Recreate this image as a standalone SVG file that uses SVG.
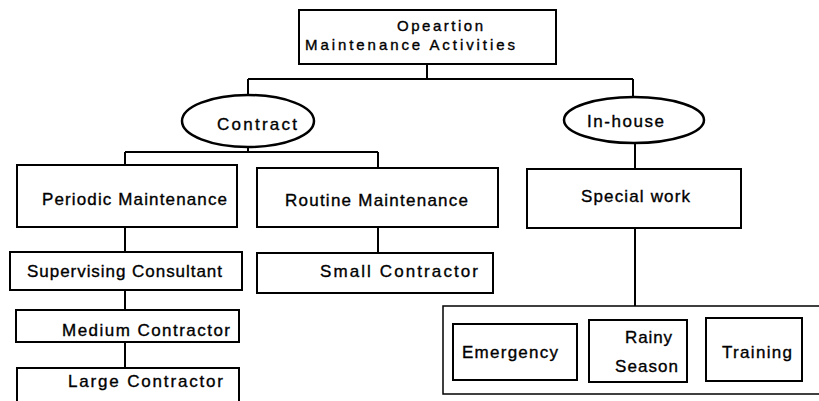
<svg xmlns="http://www.w3.org/2000/svg" width="819" height="401" viewBox="0 0 819 401">
  <style>
    .box { fill: #fff; stroke: #000; stroke-width: 2; }
    .thin { fill: #fff; stroke: #000; stroke-width: 1.5; }
    .oval { fill: #fff; stroke: #000; stroke-width: 2.5; }
    .link { fill: none; stroke: #000; stroke-width: 2; }
    text { font-family: "Liberation Sans", Arial, sans-serif; font-size: 17px; fill: #000; stroke: #000; stroke-width: 0.35; }
    .head { font-size: 15px; }
  </style>
  <rect width="819" height="401" fill="#fff"/>

  <!-- connectors -->
  <g id="connectors" class="link">
    <path d="M427 64V79M248 79H633M248 79V96M633 79V97"/>
    <path d="M248 147V152M125 152H378M125 152V165M378 152V168"/>
    <path d="M125 227V252M125 290V310M125 342V368"/>
    <path d="M378 227V253"/>
    <path d="M635 143V169M635 228V306"/>
  </g>

  <g id="root">
    <rect class="box" x="299" y="10" width="257" height="54"/>
    <text class="head" x="397" y="31" textLength="86" lengthAdjust="spacing">Opeartion</text>
    <text class="head" x="305" y="50" textLength="210" lengthAdjust="spacing">Maintenance Activities</text>
  </g>

  <g id="contract">
    <ellipse class="oval" cx="248" cy="121" rx="66" ry="26"/>
    <text x="217" y="130" font-size="19" textLength="80" lengthAdjust="spacing">Contract</text>
  </g>

  <g id="in-house">
    <ellipse class="oval" cx="634" cy="120" rx="70" ry="23"/>
    <text x="587" y="127" textLength="77" lengthAdjust="spacing">In-house</text>
  </g>

  <g id="periodic-maintenance">
    <rect class="box" x="17" y="165" width="220" height="62"/>
    <text x="42" y="205" textLength="185" lengthAdjust="spacing">Periodic Maintenance</text>
  </g>

  <g id="routine-maintenance">
    <rect class="box" x="257" y="168" width="241" height="59"/>
    <text x="285" y="206" textLength="183" lengthAdjust="spacing">Routine Maintenance</text>
  </g>

  <g id="special-work">
    <rect class="box" x="527" y="169" width="214" height="59"/>
    <text x="581" y="202" textLength="109" lengthAdjust="spacing">Special work</text>
  </g>

  <g id="supervising-consultant">
    <rect class="box" x="10" y="252" width="232" height="38"/>
    <text x="27" y="277" textLength="195" lengthAdjust="spacing">Supervising Consultant</text>
  </g>

  <g id="small-contractor">
    <rect class="box" x="257" y="253" width="236" height="40"/>
    <text x="320" y="277" textLength="158" lengthAdjust="spacing">Small Contractor</text>
  </g>

  <g id="medium-contractor">
    <rect class="box" x="16" y="310" width="223" height="32"/>
    <text x="62" y="336" textLength="168" lengthAdjust="spacing">Medium Contractor</text>
  </g>

  <g id="large-contractor">
    <rect class="box" x="17" y="368" width="222" height="40"/>
    <text x="68" y="387" textLength="155" lengthAdjust="spacing">Large Contractor</text>
  </g>

  <g id="in-house-tasks">
    <rect class="thin" x="443" y="306" width="382" height="88"/>
  </g>

  <g id="emergency">
    <rect class="box" x="453" y="324" width="124" height="56"/>
    <text x="462" y="358" textLength="96" lengthAdjust="spacing">Emergency</text>
  </g>

  <g id="rainy-season">
    <rect class="box" x="589" y="320" width="98" height="62"/>
    <text x="625" y="343" textLength="47" lengthAdjust="spacing">Rainy</text>
    <text x="615" y="372" textLength="63" lengthAdjust="spacing">Season</text>
  </g>

  <g id="training">
    <rect class="box" x="706" y="318" width="96" height="63"/>
    <text x="722" y="358" textLength="70" lengthAdjust="spacing">Training</text>
  </g>
</svg>
